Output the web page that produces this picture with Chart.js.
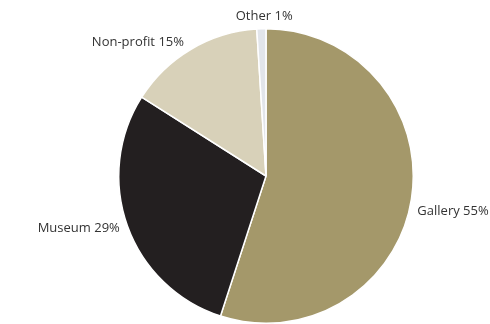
<!DOCTYPE html>
<html>
<head>
<meta charset="utf-8">
<script src="https://cdn.jsdelivr.net/npm/chart.js@4/dist/chart.umd.min.js"></script>
<style>
  html, body { margin: 0; padding: 0; background: #ffffff; }
  #wrap { width: 490px; height: 324px; }
</style>
</head>
<body>
<div id="wrap"><canvas id="c" width="490" height="324"></canvas></div>
<script>
// Share of sales by buyer type
const categories = ['Gallery', 'Museum', 'Non-profit', 'Other'];
const shares = [55, 29, 15, 1];
const sliceColors = ['#a4986a', '#231f20', '#d8d1b9', '#e2e5ea'];

// Draws "Name NN%" next to each slice
const outsideLabels = {
  id: 'outsideLabels',
  afterDatasetsDraw(chart, args, opts) {
    const ctx = chart.ctx;
    const meta = chart.getDatasetMeta(0);
    ctx.save();
    ctx.font = '13px "Open Sans", sans-serif';
    ctx.fillStyle = '#333333';
    meta.data.forEach((arc, i) => {
      const mid = (arc.startAngle + arc.endAngle) / 2;
      const r = arc.outerRadius + opts.gap;
      const cos = Math.cos(mid), sin = Math.sin(mid);
      let x = arc.x + cos * r;
      let y = arc.y + sin * r;
      const nudge = (opts.nudge && opts.nudge[i]) || [0, 0];
      x += nudge[0]; y += nudge[1];
      ctx.textAlign = cos > 0.15 ? 'left' : (cos < -0.15 ? 'right' : 'center');
      ctx.textBaseline = sin < -0.9 ? 'bottom' : 'middle';
      ctx.fillText(categories[i] + ' ' + shares[i] + '%', x, y);
    });
    ctx.restore();
  }
};

new Chart(document.getElementById('c'), {
  type: 'pie',
  data: {
    labels: categories,
    datasets: [{
      data: shares,
      backgroundColor: sliceColors,
      borderColor: '#ffffff',
      borderWidth: 1.5
    }]
  },
  options: {
    responsive: false,
    animation: false,
    layout: { padding: { top: 28, bottom: 0, left: 118, right: 76 } },
    plugins: {
      legend: { display: false },
      tooltip: { enabled: false },
      outsideLabels: { gap: 6, nudge: [[0, 11], [-2, 0], [-4, -2], [3, 0]] }
    }
  },
  plugins: [outsideLabels]
});
</script>
</body>
</html>
